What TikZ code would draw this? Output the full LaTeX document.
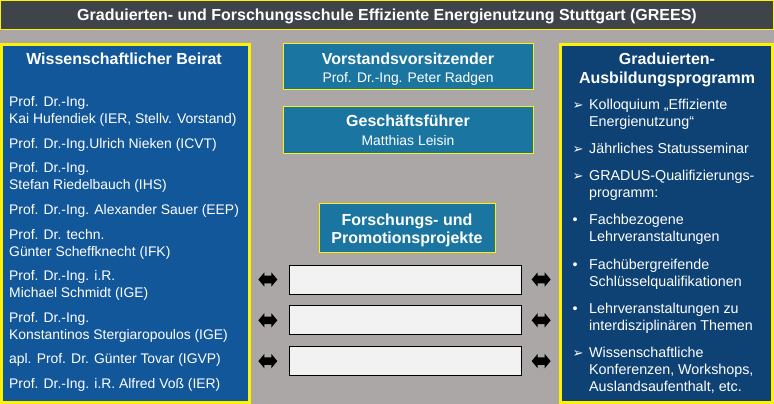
\documentclass[tikz,border=0pt]{standalone}
\usepackage{fontspec}
\setmainfont{Liberation Sans}
\newfontfamily\dejavu{DejaVu Sans}
\usetikzlibrary{shapes.arrows, positioning}
\definecolor{hgrau}{HTML}{ABA7A6}
\definecolor{titelgrau}{HTML}{3F444B}
\definecolor{beiratblau}{HTML}{13579B}
\definecolor{kastenblau}{HTML}{1A75A0}
\definecolor{programmblau}{HTML}{0E4275}
\definecolor{projektgrau}{HTML}{F2F2F2}
\newcommand\kopf{\fontsize{16}{18.5}\selectfont\bfseries}
\newcommand\namen{\fontsize{13.9}{17}\selectfont}
\newcommand\punkte{\fontsize{14.3}{17}\selectfont}
\newcommand\spitze{\makebox[16.5pt][l]{{\dejavu\fontsize{13}{12}\selectfont ➢}}}
\newcommand\punkt{\makebox[16.5pt][l]{•}}
\newcommand\einzug{\hspace*{16.5pt}}

\begin{document}
\begin{tikzpicture}[x=1pt, y=-1pt, every node/.style={inner sep=0pt, text=white},
  rahmen/.style={draw=yellow, line width=3pt},
  kasten/.style={draw=yellow, line width=1pt, fill=kastenblau},
  projekt/.style={draw=black, line width=0.8pt, fill=projektgrau, minimum width=232pt, minimum height=29pt},
  doppelpfeil/.style={double arrow, fill=black, inner xsep=0pt, inner ysep=3.6pt, minimum height=19pt, double arrow head extend=3.4pt, double arrow tip angle=100}]
\useasboundingbox (0,0) rectangle (774,404);
\fill[hgrau] (0,0) rectangle (774,404);

% Titelleiste
\node[fill=titelgrau, draw=yellow, line width=0.8pt, minimum width=773pt, minimum height=29pt, font=\kopf, text height=11.5pt, text depth=0pt] (titel) at (387,14.5) {Graduierten- und Forschungsschule Effiziente Energienutzung Stuttgart (GREES)};

% Beirat
\node[rahmen, fill=beiratblau, minimum width=248pt, minimum height=358pt] (beirat) at (125.5,223.5) {};
\node[font=\kopf, anchor=base] (beirattitel) at (124,64.8) {Wissenschaftlicher Beirat};
\node[font=\namen, align=left, anchor=north west] (mitglieder) at (9,96.4) {Prof. Dr.-Ing.\\ Kai Hufendiek (IER, Stellv. Vorstand)\\[7.6pt]
  Prof. Dr.-Ing.Ulrich Nieken (ICVT)\\[7.6pt]
  Prof. Dr.-Ing.\\ Stefan Riedelbauch (IHS)\\[7.6pt]
  Prof. Dr.-Ing. Alexander Sauer (EEP)\\[7.6pt]
  Prof. Dr. techn.\\ Günter Scheffknecht (IFK)\\[7.6pt]
  Prof. Dr.-Ing. i.R.\\ Michael Schmidt (IGE)\\[7.6pt]
  Prof. Dr.-Ing.\\ Konstantinos Stergiaropoulos (IGE)\\[7.6pt]
  apl. Prof. Dr. Günter Tovar (IGVP)\\[7.6pt]
  Prof. Dr.-Ing. i.R. Alfred Voß (IER)};

% Ausbildungsprogramm
\node[rahmen, fill=programmblau, minimum width=212pt, minimum height=358pt] (programm) at (666.5,223.5) {};
\node[font=\kopf, anchor=base] (programmtitel1) at (667,64.8) {Graduierten-};
\node[font=\kopf, anchor=base] (programmtitel2) at (667,83.2) {Ausbildungsprogramm};
\node[font=\punkte, align=left, anchor=north west] (inhalte) at (572.5,98.5) {\spitze Kolloquium „Effiziente\\ \einzug Energienutzung“\\[10.3pt]
  \spitze Jährliches Statusseminar\\[10.3pt]
  \spitze GRADUS-Qualifizierungs-\\ \einzug programm:\\[10.3pt]
  \punkt Fachbezogene\\ \einzug Lehrveranstaltungen\\[10.3pt]
  \punkt Fachübergreifende\\ \einzug Schlüsselqualifikationen\\[10.3pt]
  \punkt Lehrveranstaltungen zu\\ \einzug interdisziplinären Themen\\[10.3pt]
  \spitze Wissenschaftliche\\ \einzug Konferenzen, Workshops,\\ \einzug Auslandsaufenthalt, etc.};

% Vorstand, Geschaeftsfuehrung, Projekte
\node[kasten, minimum width=250pt, minimum height=46pt] (vorsitz) at (408,67) {};
\node[font=\kopf, anchor=base] (vorsitztitel) at (408,64.8) {Vorstandsvorsitzender};
\node[font=\namen, anchor=base] (vorsitzname) at (408,82.7) {Prof. Dr.-Ing. Peter Radgen};

\node[kasten, minimum width=250pt, minimum height=47pt] (gf) at (408,129.5) {};
\node[font=\kopf, anchor=base] (gftitel) at (408,126.5) {Geschäftsführer};
\node[font=\namen, anchor=base] (gfname) at (408,145) {Matthias Leisin};

\node[kasten, minimum width=176pt, minimum height=49pt] (projekte) at (407,227.5) {};
\node[font=\kopf, anchor=base] (projektetitel1) at (407,225) {Forschungs- und};
\node[font=\kopf, anchor=base] (projektetitel2) at (407,243) {Promotionsprojekte};

\node[projekt] (projekt1) at (405,279.5) {};
\node[projekt, below=11pt of projekt1] (projekt2) {};
\node[projekt, below=11pt of projekt2] (projekt3) {};

\node[doppelpfeil, left=11pt of projekt1] (pfeil1l) {};
\node[doppelpfeil, left=11pt of projekt2] (pfeil2l) {};
\node[doppelpfeil, left=11pt of projekt3] (pfeil3l) {};
\node[doppelpfeil, right=10pt of projekt1] (pfeil1r) {};
\node[doppelpfeil, right=10pt of projekt2] (pfeil2r) {};
\node[doppelpfeil, right=10pt of projekt3] (pfeil3r) {};
\end{tikzpicture}
\end{document}
